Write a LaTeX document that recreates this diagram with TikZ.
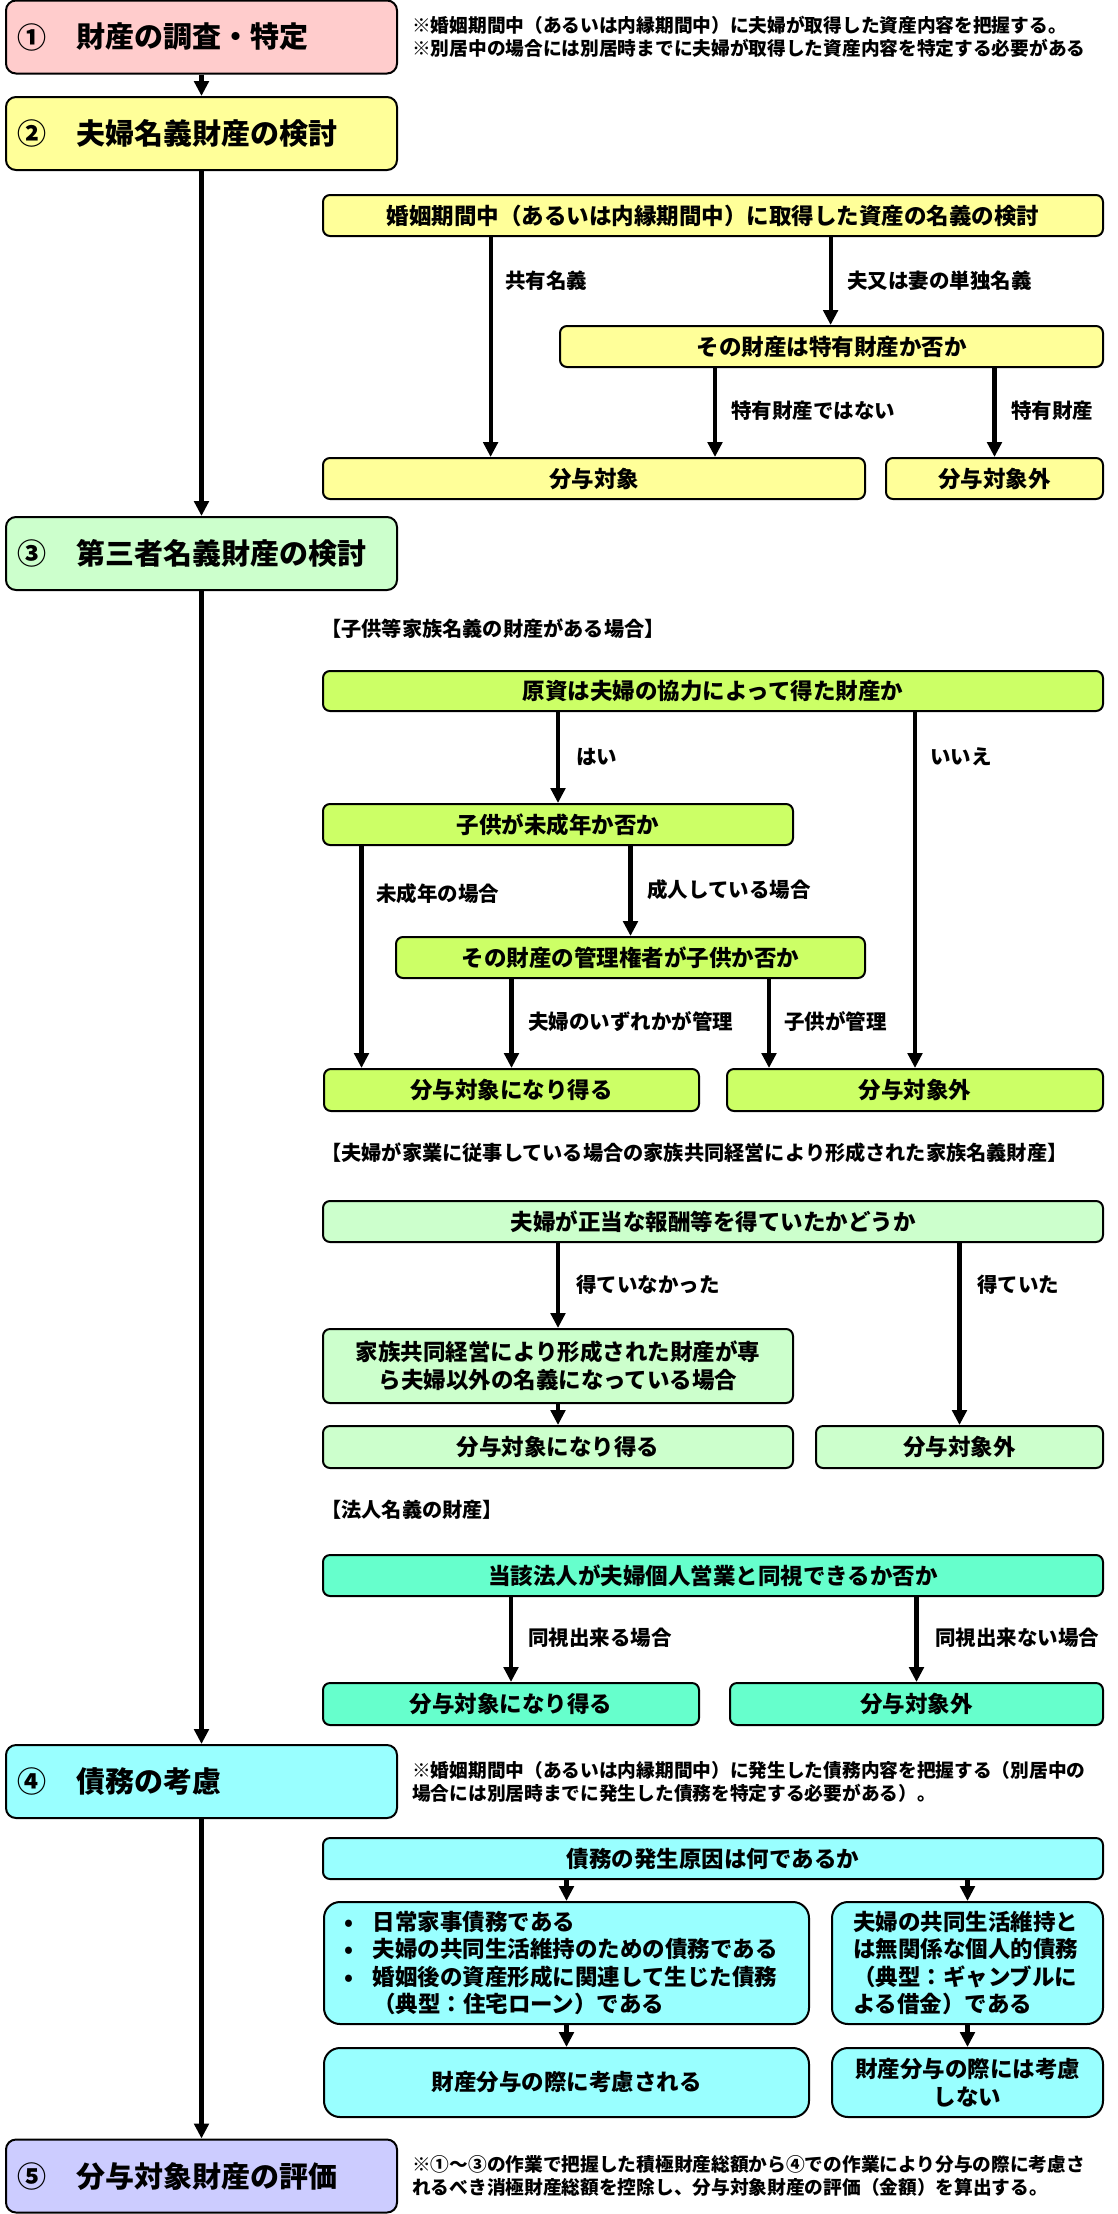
\documentclass[tikz,border=0pt]{standalone}
\usepackage{fontspec}
\setmainfont{Noto Sans CJK JP}
\usetikzlibrary{arrows.meta}
\definecolor{cpink}{HTML}{FFCCCC}
\definecolor{cyel}{HTML}{FFFF99}
\definecolor{clgreen}{HTML}{CCFFCC}
\definecolor{clime}{HTML}{CCFF66}
\definecolor{cteal}{HTML}{66FFCC}
\definecolor{ccyan}{HTML}{99FFFF}
\definecolor{clav}{HTML}{CCCCFF}
\tikzset{
  box/.style={draw=black, line width=2pt, rounded corners=7pt, inner sep=0pt, align=center,
    font=\bfseries\fontsize{22.5}{28}\selectfont},
  bigr/.style={rounded corners=16pt},
  stepbox/.style={draw=black, line width=2pt, rounded corners=10pt, minimum width=391pt, minimum height=73pt, inner sep=0pt},
  heading/.style={inner sep=0pt, font=\bfseries\fontsize{29}{34}\selectfont},
  lbl/.style={anchor=west, inner sep=0pt, font=\bfseries\fontsize{20.5}{24}\selectfont},
  hdr/.style={anchor=west, inner sep=0pt, font=\bfseries\fontsize{20.2}{24}\selectfont},
  note/.style={anchor=west, inner sep=0pt, align=left, font=\bfseries\fontsize{18.7}{23}\selectfont},
  arr/.style={line width=4.2pt, -{Triangle[width=14.5pt,length=15pt]}},
}
\begin{document}
\begin{tikzpicture}[x=1pt,y=-1pt]
\useasboundingbox (0,0) rectangle (1118,2214);

% ---------- step boxes ----------
\node[stepbox, fill=cpink] (s1) at (201.5,37) {};
\node[stepbox, fill=cyel] (s2) at (201.5,133.5) {};
\node[stepbox, fill=clgreen] (s3) at (201.5,553.5) {};
\node[stepbox, fill=ccyan] (s4) at (201.5,1781.5) {};
\node[stepbox, fill=clav] (s5) at (201.5,2176) {};

\node[heading] (n1) at (32,37) {①};
\node[heading, anchor=west] (t1h) at (76,37) {財産の調査・特定};
\node[heading] (n2) at (32,133.5) {②};
\node[heading, anchor=west] (t2h) at (76,133.5) {夫婦名義財産の検討};
\node[heading] (n3) at (32,553.5) {③};
\node[heading, anchor=west] (t3h) at (76,553.5) {第三者名義財産の検討};
\node[heading] (n4) at (32,1781.5) {④};
\node[heading, anchor=west] (t4h) at (76,1781.5) {債務の考慮};
\node[heading] (n5) at (32,2176) {⑤};
\node[heading, anchor=west] (t5h) at (76,2176) {分与対象財産の評価};

\node[note] (note1) at (412,36.5) {※婚姻期間中（あるいは内縁期間中）に夫婦が取得した資産内容を把握する。\\※別居中の場合には別居時までに夫婦が取得した資産内容を特定する必要がある};
\node[note] (note4) at (412,1782) {※婚姻期間中（あるいは内縁期間中）に発生した債務内容を把握する（別居中の\\場合には別居時までに発生した債務を特定する必要がある）。};
\node[note] (note5) at (412,2175.5) {※①～③の作業で把握した積極財産総額から④での作業により分与の際に考慮さ\\れるべき消極財産総額を控除し、分与対象財産の評価（金額）を算出する。};

\draw[arr] (s1) -- (s2);
\draw[arr] (s2) -- (s3);
\draw[arr] (s3) -- (s4);
\draw[arr] (s4) -- (s5);

% ---------- section 2 (yellow) ----------
\node[box, fill=cyel, minimum width=780pt, minimum height=41pt] (y1) at (713,215.5) {婚姻期間中（あるいは内縁期間中）に取得した資産の名義の検討};
\node[box, fill=cyel, minimum width=543pt, minimum height=41pt] (y2) at (831.5,346.5) {その財産は特有財産か否か};
\node[box, fill=cyel, minimum width=542pt, minimum height=41pt] (y3) at (594,478.5) {分与対象};
\node[box, fill=cyel, minimum width=217pt, minimum height=41pt] (y4) at (994.5,478.5) {分与対象外};

\draw[arr] (y1.south -| 490.6,0) -- (y3.north -| 490.6,0);
\draw[arr] (y1.south -| 830.6,0) -- (y2.north -| 830.6,0);
\draw[arr] (y2.south -| 715,0) -- (y3.north -| 715,0);
\draw[arr] (y2.south -| y4.north) -- (y4.north);

\node[lbl] (ly1) at (505,281) {共有名義};
\node[lbl] (ly2) at (847,281) {夫又は妻の単独名義};
\node[lbl] (ly3) at (731,411) {特有財産ではない};
\node[lbl] (ly4) at (1011,411) {特有財産};

% ---------- section 3a (lime) ----------
\node[hdr] (h1) at (321,628.5) {【子供等家族名義の財産がある場合】};
\node[box, fill=clime, minimum width=780pt, minimum height=40pt] (g1) at (713,691) {原資は夫婦の協力によって得た財産か};
\node[box, fill=clime, minimum width=470pt, minimum height=41pt] (g2) at (558,824.5) {子供が未成年か否か};
\node[box, fill=clime, minimum width=469pt, minimum height=41pt] (g3) at (630.5,957.5) {その財産の管理権者が子供か否か};
\node[box, fill=clime, minimum width=375pt, minimum height=42pt] (g4) at (511.5,1090) {分与対象になり得る};
\node[box, fill=clime, minimum width=376pt, minimum height=42pt] (g5) at (915,1090) {分与対象外};

\draw[arr] (g1.south -| g2.north) -- (g2.north);
\draw[arr] (g1.south -| g5.north) -- (g5.north);
\draw[arr] (g2.south -| 361.5,0) -- (g4.north -| 361.5,0);
\draw[arr] (g2.south -| g3.north) -- (g3.north);
\draw[arr] (g3.south -| g4.north) -- (g4.north);
\draw[arr] (g3.south -| 769,0) -- (g5.north -| 769,0);

\node[lbl] (lg1) at (576,757) {はい};
\node[lbl] (lg2) at (930,757) {いいえ};
\node[lbl] (lg3) at (376,894) {未成年の場合};
\node[lbl] (lg4) at (647,889.5) {成人している場合};
\node[lbl] (lg5) at (528,1022) {夫婦のいずれかが管理};
\node[lbl] (lg6) at (784,1022) {子供が管理};

% ---------- section 3b (light green) ----------
\node[hdr] (h2) at (321,1153) {【夫婦が家業に従事している場合の家族共同経営により形成された家族名義財産】};
\node[box, fill=clgreen, minimum width=780pt, minimum height=41pt] (k1) at (713,1221.5) {夫婦が正当な報酬等を得ていたかどうか};
\node[box, fill=clgreen, minimum width=470pt, minimum height=74pt] (k2) at (558,1366) {家族共同経営により形成された財産が専\\ら夫婦以外の名義になっている場合};
\node[box, fill=clgreen, minimum width=470pt, minimum height=42pt] (k3) at (558,1447) {分与対象になり得る};
\node[box, fill=clgreen, minimum width=287pt, minimum height=42pt] (k4) at (959.5,1447) {分与対象外};

\draw[arr] (k1.south -| k2.north) -- (k2.north);
\draw[arr] (k1.south -| k4.north) -- (k4.north);
\draw[arr] (k2) -- (k3);

\node[lbl] (lk1) at (576,1285) {得ていなかった};
\node[lbl] (lk2) at (977,1285) {得ていた};

% ---------- section 3c (teal) ----------
\node[hdr] (h3) at (321,1510) {【法人名義の財産】};
\node[box, fill=cteal, minimum width=780pt, minimum height=41pt] (q1) at (713,1575.5) {当該法人が夫婦個人営業と同視できるか否か};
\node[box, fill=cteal, minimum width=376pt, minimum height=42pt] (q2) at (511,1704) {分与対象になり得る};
\node[box, fill=cteal, minimum width=373pt, minimum height=42pt] (q3) at (916.5,1704) {分与対象外};

\draw[arr] (q1.south -| q2.north) -- (q2.north);
\draw[arr] (q1.south -| q3.north) -- (q3.north);

\node[lbl] (lq1) at (528,1638) {同視出来る場合};
\node[lbl] (lq2) at (935,1638) {同視出来ない場合};

% ---------- section 4 (cyan) ----------
\node[box, fill=ccyan, minimum width=780pt, minimum height=41pt] (c1) at (713,1858.5) {債務の発生原因は何であるか};
\node[box, bigr, fill=ccyan, minimum width=485pt, minimum height=122pt, text width=485pt, align=left,
  font=\bfseries\fontsize{22.5}{27.5}\selectfont] (c2) at (566.5,1963)
  {\makebox[49pt][c]{•}日常家事債務である\\
   \makebox[49pt][c]{•}夫婦の共同生活維持のための債務である\\
   \makebox[49pt][c]{•}婚姻後の資産形成に関連して生じた債務\\
   \makebox[49pt][c]{}（典型：住宅ローン）である};
\node[box, bigr, fill=ccyan, minimum width=271pt, minimum height=122pt, text width=229pt, align=left,
  font=\bfseries\fontsize{22.5}{27.5}\selectfont] (c3) at (967.5,1963)
  {夫婦の共同生活維持と\\は無関係な個人的債務\\（典型：ギャンブルに\\よる借金）である};
\node[box, bigr, fill=ccyan, minimum width=485pt, minimum height=69pt] (c4) at (566.5,2082.5) {財産分与の際に考慮される};
\node[box, bigr, fill=ccyan, minimum width=271pt, minimum height=69pt] (c5) at (967.5,2082.5) {財産分与の際には考慮\\しない};

\draw[arr] (c1.south -| c2.north) -- (c2.north);
\draw[arr] (c1.south -| c3.north) -- (c3.north);
\draw[arr] (c2) -- (c4);
\draw[arr] (c3) -- (c5);

\end{tikzpicture}
\end{document}
